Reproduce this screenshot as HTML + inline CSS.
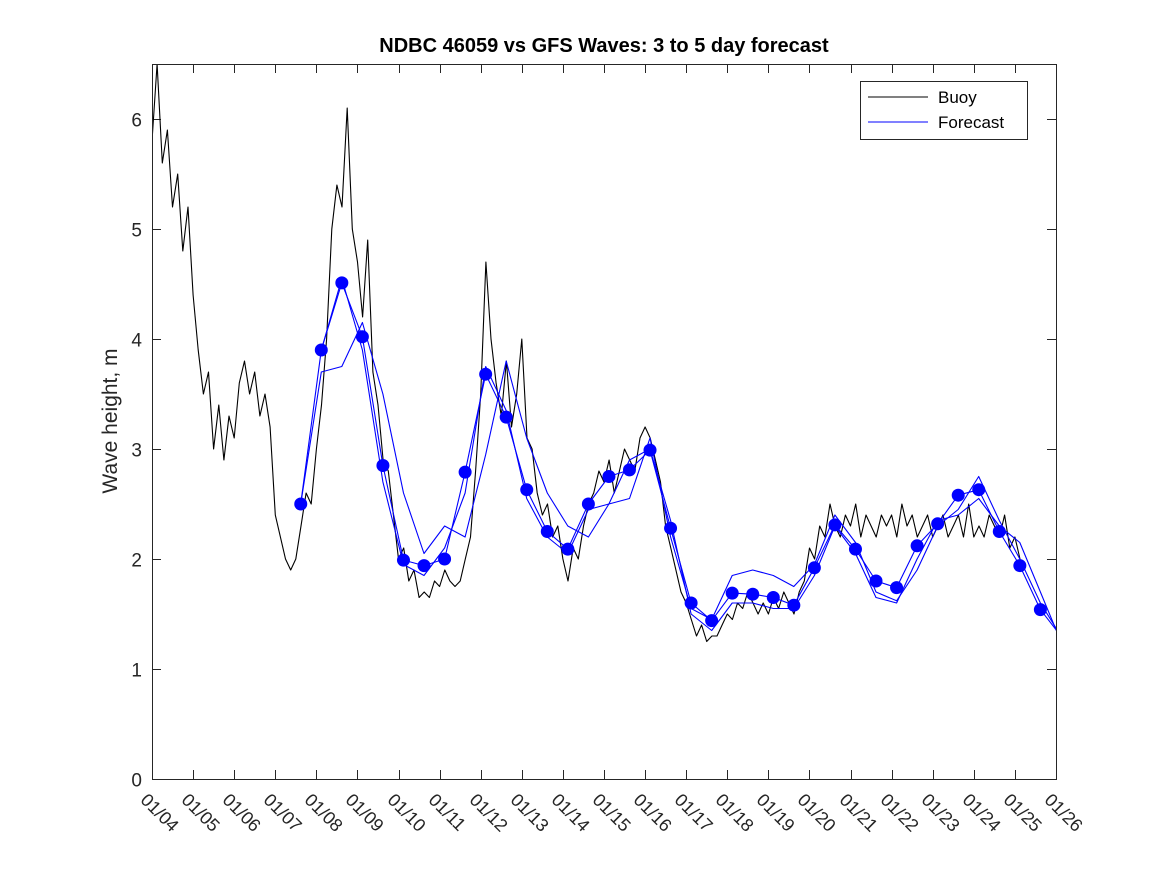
<!DOCTYPE html>
<html><head><meta charset="utf-8"><style>
body{margin:0;background:#fff}
svg{display:block;font-family:"Liberation Sans",sans-serif}
</style></head><body>
<svg id="chart" width="1167" height="875" viewBox="0 0 1167 875">
<defs><clipPath id="plotclip"><rect x="152" y="64" width="905" height="716"/></clipPath></defs>
<rect x="0" y="0" width="1167" height="875" fill="#fff"/>
<text x="604" y="52" text-anchor="middle" font-size="20" font-weight="bold">NDBC 46059 vs GFS Waves: 3 to 5 day forecast</text>
<text transform="translate(117,421) rotate(-90)" text-anchor="middle" font-size="21" fill="#262626">Wave height, m</text>
<g id="axes"></g>
<g id="series" clip-path="url(#plotclip)"></g>
<rect x="152.5" y="64.5" width="904" height="715" fill="none" stroke="#262626" stroke-width="1"/>
<g>
<rect x="860.5" y="81.5" width="167" height="58" fill="#fff" stroke="#262626"/>
<line x1="868" y1="97" x2="928" y2="97" stroke="#000"/>
<text x="938" y="103" font-size="17">Buoy</text>
<line x1="868" y1="122" x2="928" y2="122" stroke="#00f"/>
<text x="938" y="128" font-size="17">Forecast</text>
</g>
</svg>
<script>
const xTickLabels=["01/04","01/05","01/06","01/07","01/08","01/09","01/10","01/11","01/12","01/13","01/14","01/15","01/16","01/17","01/18","01/19","01/20","01/21","01/22","01/23","01/24","01/25","01/26"];
const yTicks=[0,1,2,3,4,5,6];
const buoyStep=0.125;
const buoy=[5.8,6.5,5.6,5.9,5.2,5.5,4.8,5.2,
4.4,3.9,3.5,3.7,3.0,3.4,2.9,3.3,
3.1,3.6,3.8,3.5,3.7,3.3,3.5,3.2,
2.4,2.2,2.0,1.9,2.0,2.3,2.6,2.5,
3.0,3.4,4.0,5.0,5.4,5.2,6.1,5.0,
4.7,4.2,4.9,3.7,3.4,2.9,2.8,2.4,
2.0,2.1,1.8,1.9,1.65,1.7,1.65,1.8,
1.75,1.9,1.8,1.75,1.8,2.0,2.2,2.8,
3.5,4.7,4.0,3.6,3.3,3.8,3.2,3.5,
4.0,3.1,3.0,2.6,2.4,2.5,2.2,2.3,
2.0,1.8,2.1,2.0,2.3,2.5,2.6,2.8,
2.7,2.9,2.6,2.8,3.0,2.9,2.8,3.1,
3.2,3.1,2.9,2.7,2.3,2.1,1.9,1.7,
1.6,1.45,1.3,1.4,1.25,1.3,1.3,1.4,
1.5,1.45,1.6,1.55,1.7,1.6,1.5,1.6,
1.5,1.65,1.55,1.7,1.6,1.5,1.7,1.8,
2.1,2.0,2.3,2.2,2.5,2.3,2.2,2.4,
2.3,2.5,2.2,2.4,2.3,2.2,2.4,2.3,
2.4,2.2,2.5,2.3,2.4,2.2,2.3,2.4,
2.2,2.3,2.4,2.2,2.3,2.4,2.2,2.5,
2.2,2.3,2.2,2.4,2.3,2.2,2.4,2.1,
2.2,2.0];
const fcStart=3.62;
const fcStep=0.5;
const dots=[2.5,3.9,4.51,4.02,2.85,1.99,1.94,2.0,2.79,3.68,3.29,2.63,2.25,2.09,2.5,2.75,2.81,2.99,2.28,1.6,1.44,1.69,1.68,1.65,1.58,1.92,2.31,2.09,1.8,1.74,2.12,2.32,2.58,2.63,2.25,1.94,1.54,1.3];
const fcA=[2.5,3.7,3.75,4.15,3.5,2.6,2.05,2.3,2.2,2.95,3.8,3.1,2.6,2.3,2.2,2.5,2.55,3.1,2.2,1.55,1.45,1.85,1.9,1.85,1.75,1.95,2.4,2.15,1.7,1.62,1.9,2.3,2.45,2.75,2.35,2.0,1.6,1.3];
const fcBStart=4.12;
const fcB=[3.9,4.55,3.9,2.7,1.95,1.85,2.1,2.6,3.75,3.35,2.55,2.2,2.05,2.45,2.5,2.9,3.0,2.35,1.5,1.35,1.6,1.6,1.55,1.55,1.85,2.3,2.05,1.65,1.6,2.0,2.35,2.4,2.55,2.3,2.15,1.7,1.25];
const X0=152,X1=1056,Y0=779,YT=64,DAYS=22,YMAX=6.5;
const xs=d=>X0+(X1-X0)*d/DAYS;
const ys=v=>Y0-(Y0-YT)*v/YMAX;
const NS="http://www.w3.org/2000/svg";
const axes=document.getElementById('axes'),series=document.getElementById('series');
function mk(t,a,p){const e=document.createElementNS(NS,t);for(const k in a)e.setAttribute(k,a[k]);p.appendChild(e);return e;}
xTickLabels.forEach((lab,i)=>{const x=Math.round(xs(i))+0.5;
 const t1=mk('line',{x1:x,y1:Y0,x2:x,y2:Y0-9,stroke:'#262626'},axes);
 
 
 const t2=mk('line',{x1:x,y1:YT,x2:x,y2:YT+9,stroke:'#262626'},axes);
 
 
 const tx=mk('text',{transform:`translate(${x-13},${Y0+22}) rotate(45)`,'font-size':18,fill:'#262626'},axes);
 tx.textContent=lab;
 
 
});
yTicks.forEach(v=>{const y=Math.round(ys(v))+0.5;
 const t1=mk('line',{x1:X0,y1:y,x2:X0+9,y2:y,stroke:'#262626'},axes);
 
 
 const t2=mk('line',{x1:X1-9,y1:y,x2:X1,y2:y,stroke:'#262626'},axes);
 
 
 const tx=mk('text',{x:X0-10,y:y+7,'text-anchor':'end','font-size':19,fill:'#262626'},axes);
 tx.textContent=v;
 
 
});
function line(vals,start,step,color,name){
 const pts=vals.map((v,i)=>xs(start+i*step).toFixed(1)+','+ys(v).toFixed(1)).join(' ');
 const p=mk('polyline',{points:pts,fill:'none',stroke:color,'stroke-width':1.1,'stroke-linejoin':'round'},series);
 
 
}
line(buoy,0,buoyStep,'#000','buoy-line');
line(fcA,fcStart,fcStep,'#00f','forecast-line-a');
line(fcB,fcBStart,fcStep,'#00f','forecast-line-b');
line(dots,fcStart,fcStep,'#00f','forecast-line-main');
dots.slice(0,37).forEach((v,i)=>{
 const c=mk('circle',{cx:xs(fcStart+i*fcStep),cy:ys(v),r:6.5,fill:'#00f'},series);
 
 
});
</script>
</body></html>
